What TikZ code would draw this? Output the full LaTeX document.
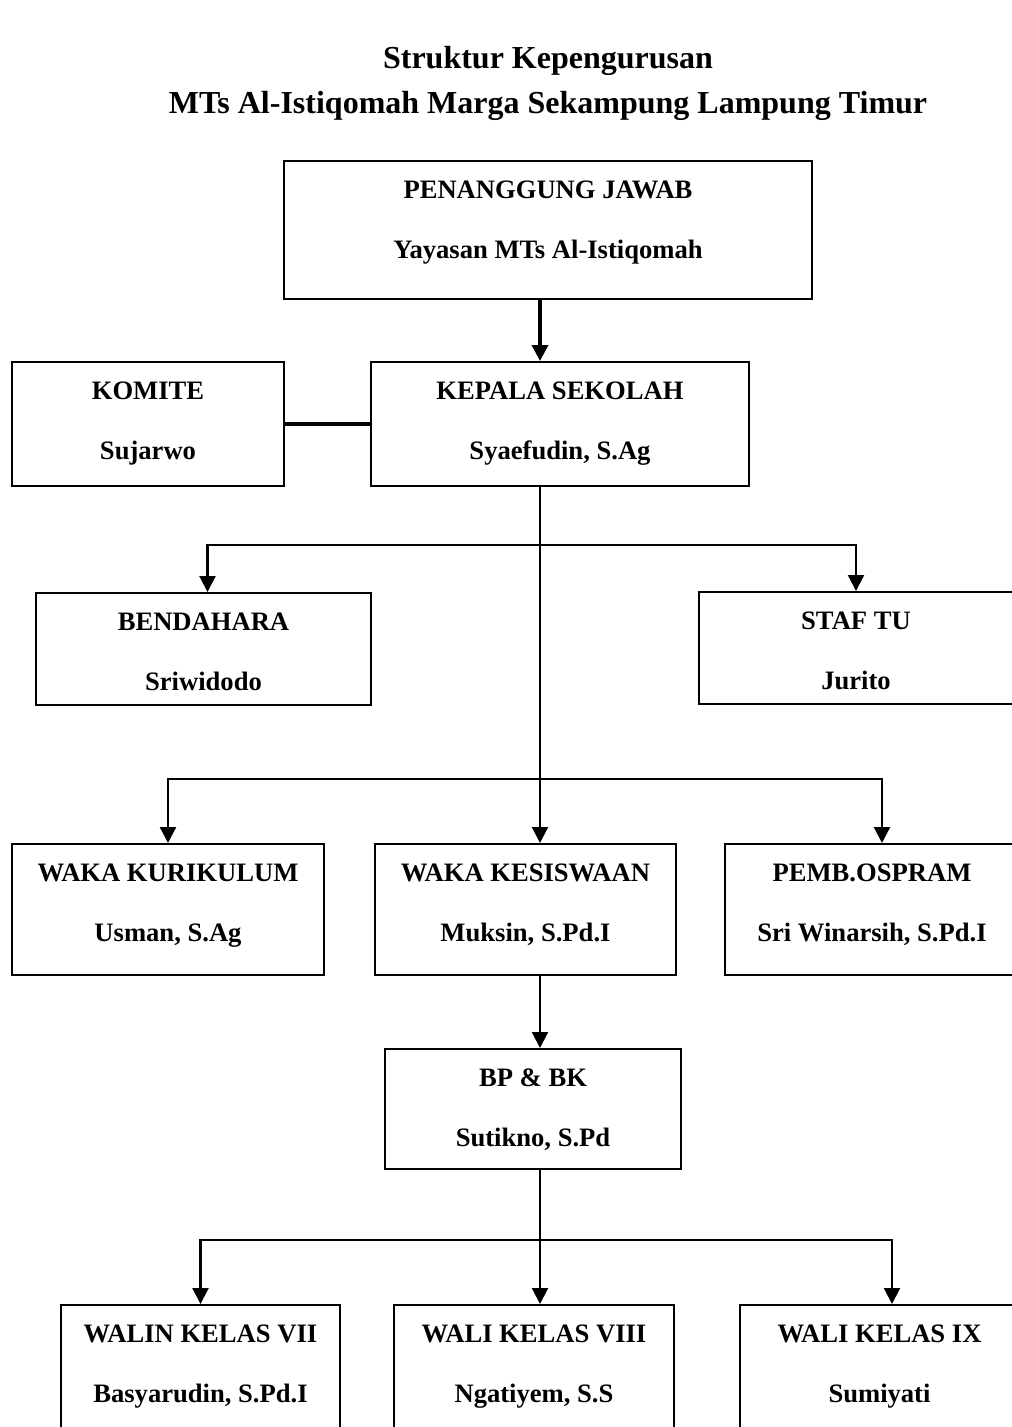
\documentclass[tikz,border=0pt]{standalone}
\usepackage{fontspec}
\setmainfont{Liberation Serif}
\usetikzlibrary{arrows.meta}

\tikzset{
  kotak/.style={draw, line width=2pt, inner sep=0pt},
  teks/.style={anchor=base, inner sep=0pt, font=\fontsize{26.6}{30}\selectfont\bfseries},
  judul/.style={anchor=base, inner sep=0pt, font=\fontsize{32}{38}\selectfont\bfseries},
  garis/.style={line width=2.2pt},
  panah/.style={garis, -{Triangle[length=16pt,width=16pt]}},
}

\begin{document}
\begin{tikzpicture}[x=1pt,y=-1pt]

        \useasboundingbox[fill=white] (0,0) rectangle (1012,1427);

        % judul
        \node[judul] (judul1) at (548,68)  {Struktur Kepengurusan};
        \node[judul] (judul2) at (548,113) {MTs Al-Istiqomah Marga Sekampung Lampung Timur};

        % kotak-kotak
        \begin{scope}[every node/.style={kotak}]
          \node[minimum width=528, minimum height=138] (pj)        at (548,230)    {};
          \node[minimum width=378, minimum height=124] (kepala)    at (560,424)    {};
          \node[minimum width=272, minimum height=124] (komite)    at (148,424)    {};
          \node[minimum width=335, minimum height=112] (bendahara) at (203.5,649)  {};
          \node[minimum width=314, minimum height=112] (staf)      at (856,648)    {};
          \node[minimum width=312, minimum height=131] (kurikulum) at (168,909.5)  {};
          \node[minimum width=301, minimum height=131] (kesiswaan) at (525.5,909.5) {};
          \node[minimum width=294, minimum height=131] (ospram)    at (872,909.5)  {};
          \node[minimum width=296, minimum height=120] (bpbk)      at (533,1109)   {};
          \node[minimum width=279, minimum height=135] (kelas7)    at (200.5,1372.5) {};
          \node[minimum width=280, minimum height=135] (kelas8)    at (534,1372.5) {};
          \node[minimum width=279, minimum height=135] (kelas9)    at (879.5,1372.5) {};
        \end{scope}

        % isi kotak
        \begin{scope}[every node/.style={teks}]
          \node (pj1)        at ([yshift=-38pt]pj.north)        {PENANGGUNG JAWAB};
          \node (pj2)        at ([yshift=-98pt]pj.north)        {Yayasan MTs Al-Istiqomah};
          \node (kepala1)    at ([yshift=-38pt]kepala.north)    {KEPALA SEKOLAH};
          \node (kepala2)    at ([yshift=-98pt]kepala.north)    {Syaefudin, S.Ag};
          \node (komite1)    at ([yshift=-38pt]komite.north)    {KOMITE};
          \node (komite2)    at ([yshift=-98pt]komite.north)    {Sujarwo};
          \node (bendahara1) at ([yshift=-38pt]bendahara.north) {BENDAHARA};
          \node (bendahara2) at ([yshift=-98pt]bendahara.north) {Sriwidodo};
          \node (staf1)      at ([yshift=-38pt]staf.north)      {STAF TU};
          \node (staf2)      at ([yshift=-98pt]staf.north)      {Jurito};
          \node (kurikulum1) at ([yshift=-38pt]kurikulum.north) {WAKA KURIKULUM};
          \node (kurikulum2) at ([yshift=-98pt]kurikulum.north) {Usman, S.Ag};
          \node (kesiswaan1) at ([yshift=-38pt]kesiswaan.north) {WAKA KESISWAAN};
          \node (kesiswaan2) at ([yshift=-98pt]kesiswaan.north) {Muksin, S.Pd.I};
          \node (ospram1)    at ([yshift=-38pt]ospram.north)    {PEMB.OSPRAM};
          \node (ospram2)    at ([yshift=-98pt]ospram.north)    {Sri Winarsih, S.Pd.I};
          \node (bpbk1)      at ([yshift=-38pt]bpbk.north)      {BP \& BK};
          \node (bpbk2)      at ([yshift=-98pt]bpbk.north)      {Sutikno, S.Pd};
          \node (kelas71)    at ([yshift=-38pt]kelas7.north)    {WALIN KELAS VII};
          \node (kelas72)    at ([yshift=-98pt]kelas7.north)    {Basyarudin, S.Pd.I};
          \node (kelas81)    at ([yshift=-38pt]kelas8.north)    {WALI KELAS VIII};
          \node (kelas82)    at ([yshift=-98pt]kelas8.north)    {Ngatiyem, S.S};
          \node (kelas91)    at ([yshift=-38pt]kelas9.north)    {WALI KELAS IX};
          \node (kelas92)    at ([yshift=-98pt]kelas9.north)    {Sumiyati};
        \end{scope}

        % garis penghubung
        \coordinate (poros)   at (540,0);
        \coordinate (cabang1) at (0,545);
        \coordinate (cabang2) at (0,779);
        \coordinate (cabang3) at (0,1240);

        \draw[panah, line width=3.5pt] (pj.south -| poros) -- (kepala.north -| poros);
        \draw[garis, line width=3.3pt] (komite.east) -- (kepala.west);

        \draw[panah] (kepala.south -| poros) -- (kesiswaan.north -| poros);
        \draw[panah] (cabang1 -| poros) -| ([xshift=4pt]bendahara.north);
        \draw[panah] (cabang1 -| poros) -| (staf.north);
        \draw[panah] (cabang2 -| poros) -| (kurikulum.north);
        \draw[panah] (cabang2 -| poros) -| ([xshift=10pt]ospram.north);

        \draw[panah] (kesiswaan.south -| poros) -- (bpbk.north -| poros);
        \draw[panah] (bpbk.south -| poros) -- (kelas8.north -| poros);
        \draw[panah] (cabang3 -| poros) -| (kelas7.north);
        \draw[panah] (cabang3 -| poros) -| ([xshift=12.5pt]kelas9.north);

      \end{tikzpicture}
\end{document}
